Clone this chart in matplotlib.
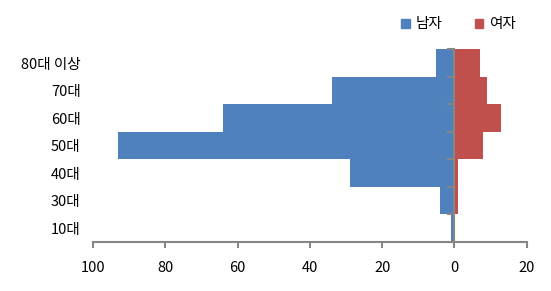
import matplotlib
matplotlib.use("Agg")
import matplotlib.pyplot as plt
from matplotlib.ticker import FuncFormatter
from matplotlib.patches import Patch

plt.rcParams['font.family'] = ['Noto Sans CJK KR', 'DejaVu Sans']

categories = ['10대', '30대', '40대', '50대', '60대', '70대', '80대 이상']
male = [1, 4, 29, 93, 64, 34, 5]
female = [0, 1, 1, 8, 13, 9, 7]
x_ticks = [-100, -80, -60, -40, -20, 0, 20]

blue = '#4F81BD'
red = '#C0504D'
gray = '#868686'

fig = plt.figure(figsize=(5.51, 2.91), dpi=100)
ax = fig.add_axes([0.1688, 0.1684, 0.956 - 0.1688, 0.8306 - 0.1684])

y = list(range(len(categories)))
ax.barh(y, [-m for m in male], height=1.0, color=blue, zorder=2)
ax.barh(y, female, height=1.0, color=red, zorder=2)

ax.set_xlim(-100, 20)
ax.set_ylim(-0.5, len(categories) - 0.5)

for s in ['top', 'right', 'left']:
    ax.spines[s].set_visible(False)
ax.spines['bottom'].set_color(gray)
ax.spines['bottom'].set_linewidth(1.5)

ax.set_xticks(x_ticks)
ax.xaxis.set_major_formatter(FuncFormatter(lambda v, p: f"{abs(int(v))}"))
ax.tick_params(axis='x', length=4, width=1.5, color=gray, pad=10, labelsize=10.5)

ax.set_yticks(y)
ax.set_yticklabels(categories)
ax.tick_params(axis='y', length=0, pad=9, labelsize=10.5)

# vertical axis at x = 0
loc = (0 - (-100)) / 120
sec = ax.secondary_yaxis(loc)
for s in ['left', 'right']:
    sec.spines[s].set_color(gray)
    sec.spines[s].set_linewidth(1.5)
sec.set_yticks([i - 0.5 for i in range(len(categories) + 1)])
sec.set_yticklabels([])
sec.tick_params(axis='y', length=5, width=1.5, color=gray, direction='in')
sec.set_zorder(3)

handles = [Patch(color=blue, label='남자'), Patch(color=red, label='여자')]
fig.legend(handles=handles, loc='upper right', bbox_to_anchor=(0.96, 0.985), ncol=2,
           frameon=False, fontsize=10.5, handlelength=0.6, handleheight=0.6,
           handletextpad=0.4, columnspacing=2.2)

fig.savefig('out.png', dpi=100)
